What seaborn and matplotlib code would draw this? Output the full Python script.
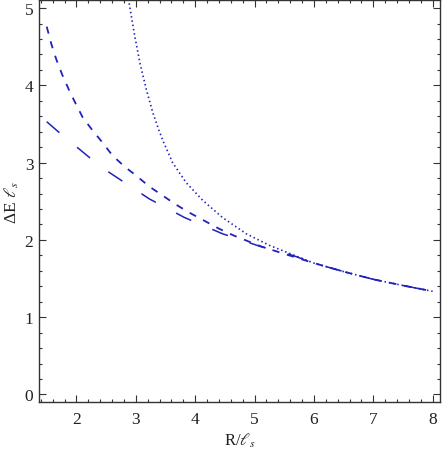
import numpy as np
import pandas as pd
import matplotlib
matplotlib.use('Agg')
import matplotlib.pyplot as plt
import seaborn as sns
from matplotlib.ticker import MultipleLocator

# values
dot_x = [2.86, 2.92, 2.98, 3.07, 3.18, 3.29, 3.39, 3.46, 3.62, 3.85, 4.13, 4.46, 4.86, 5.25, 5.64, 6.00, 6.50, 7.00, 7.50, 8.00]
dot_y = [5.20, 4.92, 4.65, 4.29, 3.94, 3.64, 3.42, 3.28, 3.00, 2.74, 2.51, 2.29, 2.08, 1.93, 1.81, 1.70, 1.59, 1.49, 1.41, 1.335]

sdash_x = [1.50, 1.58, 1.66, 1.76, 1.87, 1.99, 2.11, 2.28, 2.45, 2.61, 2.81, 3.01, 3.23, 3.46, 3.67, 3.91,
           4.15, 4.39, 4.64, 4.90, 5.13, 5.50, 6.00, 6.50, 7.00, 7.50, 8.00]
sdash_y = [4.76, 4.53, 4.34, 4.14, 3.95, 3.76, 3.58, 3.41, 3.25, 3.09, 2.95, 2.83, 2.69, 2.57, 2.46, 2.35,
           2.25, 2.15, 2.06, 1.98, 1.91, 1.82, 1.70, 1.59, 1.49, 1.41, 1.335]

ldash_x = [1.50, 1.71, 2.01, 2.23, 2.56, 3.23, 3.82, 4.46, 5.08, 5.64, 6.00, 6.50, 7.00, 7.50, 8.00]
ldash_y = [3.53, 3.39, 3.20, 3.06, 2.87, 2.53, 2.29, 2.08, 1.92, 1.80, 1.70, 1.59, 1.49, 1.41, 1.335]

x_ticks = [2, 3, 4, 5, 6, 7, 8]
y_ticks = [0, 1, 2, 3, 4, 5]

sns.set_theme(style='ticks')
plt.rcParams['font.family'] = ['Liberation Serif', 'DejaVu Serif']
plt.rcParams['mathtext.fontset'] = 'stix'

blue = '#2222bb'

fig = plt.figure(figsize=(4.43, 4.52), dpi=100)
ax = fig.add_axes([0.088, 0.108, 0.906, 0.889])

sns.lineplot(x=dot_x, y=dot_y, ax=ax, sort=False, color=blue, lw=1.2,
             linestyle=(0, (0.9, 1.7)))
sns.lineplot(x=sdash_x, y=sdash_y, ax=ax, sort=False, color=blue, lw=1.3,
             linestyle=(0, (4.0, 4.4)))
sns.lineplot(x=ldash_x, y=ldash_y, ax=ax, sort=False, color=blue, lw=1.1,
             linestyle=(0, (11, 15)))

ax.set_xlim(1.37, 8.13)
ax.set_ylim(-0.1, 5.1)
ax.set_xticks(x_ticks)
ax.set_yticks(y_ticks)
ax.xaxis.set_minor_locator(MultipleLocator(0.2))
ax.yaxis.set_minor_locator(MultipleLocator(0.2))
ax.tick_params(which='both', direction='in', top=True, right=True,
               labeltop=False, labelright=False, color='#333333',
               labelsize=12.5, labelcolor='#222222', width=0.8)
ax.tick_params(which='major', length=5, pad=4)
ax.tick_params(axis='x', which='major', pad=6)
ax.tick_params(which='minor', length=2.5)
for sp in ax.spines.values():
    sp.set_linewidth(1.0)
    sp.set_color('#333333')

ax.set_xlabel(r'R/$\ell_s$', fontsize=12, color='#222222', labelpad=3)
ax.set_ylabel(r'ΔE $\ell_s$', fontsize=12.5, color='#222222', labelpad=3)

fig.savefig('out.png', dpi=100)
